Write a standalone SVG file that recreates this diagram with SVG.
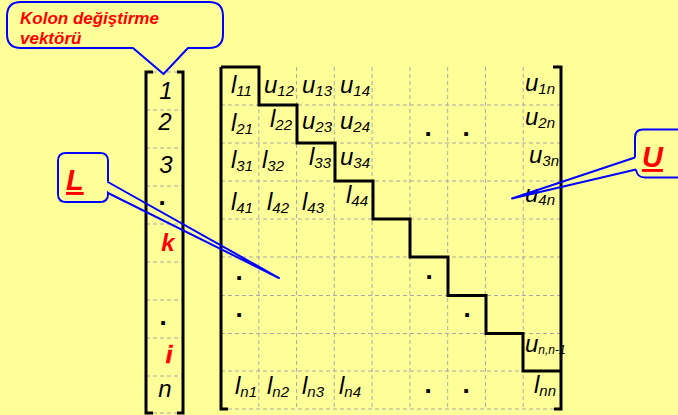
<svg xmlns="http://www.w3.org/2000/svg" width="678" height="415" viewBox="0 0 678 415">
<style>
.bg{fill:#FFFF99}
.grid{stroke:#A8A8A8;stroke-width:1;stroke-dasharray:4 3;fill:none}
.br{stroke:#000;stroke-width:3;fill:none;stroke-linejoin:miter}
.call{stroke:#0000FF;stroke-width:2;fill:#FFFF99;stroke-linejoin:round}
.m{font-family:"Liberation Sans",Arial,sans-serif;font-style:italic;font-size:24px;fill:#000}
.s{font-size:15px}
.v{font-family:"Liberation Sans",Arial,sans-serif;font-style:italic;font-size:24px;fill:#000;text-anchor:middle}
.red{fill:#FF0000;font-weight:bold}
.dot{font-family:"Liberation Sans",Arial,sans-serif;font-weight:bold;font-size:26px;fill:#000;text-anchor:middle}
.lab{font-family:"Liberation Sans",Arial,sans-serif;font-style:italic;font-weight:bold;fill:#FF0000}
</style>
<rect class="bg" x="0" y="0" width="678" height="415"/>

<g id="vector">
  <path class="grid" d="M146,72H183M146,110H183M146,148H183M146,186H183M146,224H183M146,262H183M146,300H183M146,338H183M146,376H183M146,413H183"/>
  <path class="br" d="M153,72H146V413H153M177,72H183V413H177"/>
  <text class="v" x="166" y="99">1</text>
  <text class="v" x="165" y="130">2</text>
  <text class="v" x="166" y="173">3</text>
  <text class="dot" x="162" y="205">.</text>
  <text class="v red" x="168" y="251" font-size="27">k</text>
  <text class="v red" x="169" y="363" font-size="30" stroke="#FF0000" stroke-width="0.6">i</text>
  <text class="dot" x="163" y="325">.</text>
  <text class="v" x="165" y="397">n</text>
</g>

<g id="matrix">
  <path class="grid" d="M221,105H561M221,143H561M221,181H561M221,219H561M221,257H561M221,295.5H561M221,333.5H561M221,371H561M221,409H561
  M258.8,67V409M296.6,67V409M334.3,67V409M372.1,67V409M409.9,67V409M447.7,67V409M485.4,67V409M523.2,67V409"/>
  <text class="m" x="231" y="93">l<tspan class="s" dy="3">11</tspan></text>
  <text class="m" x="264" y="93">u<tspan class="s" dy="3">12</tspan></text>
  <text class="m" x="302" y="93">u<tspan class="s" dy="3">13</tspan></text>
  <text class="m" x="340" y="93">u<tspan class="s" dy="3">14</tspan></text>
  <text class="m" x="231" y="131">l<tspan class="s" dy="3">21</tspan></text>
  <text class="m" x="270" y="127">l<tspan class="s" dy="3">22</tspan></text>
  <text class="m" x="302" y="129">u<tspan class="s" dy="3">23</tspan></text>
  <text class="m" x="340" y="129">u<tspan class="s" dy="3">24</tspan></text>
  <text class="m" x="231" y="168">l<tspan class="s" dy="3">31</tspan></text>
  <text class="m" x="262" y="168">l<tspan class="s" dy="3">32</tspan></text>
  <text class="m" x="309" y="165">l<tspan class="s" dy="3">33</tspan></text>
  <text class="m" x="340" y="165">u<tspan class="s" dy="3">34</tspan></text>
  <text class="m" x="231" y="210">l<tspan class="s" dy="3">41</tspan></text>
  <text class="m" x="267" y="210">l<tspan class="s" dy="3">42</tspan></text>
  <text class="m" x="302" y="210">l<tspan class="s" dy="3">43</tspan></text>
  <text class="m" x="346" y="203">l<tspan class="s" dy="3">44</tspan></text>
  <text class="m" x="525" y="91">u<tspan class="s" dy="3">1n</tspan></text>
  <text class="m" x="525" y="125">u<tspan class="s" dy="3">2n</tspan></text>
  <text class="m" x="529" y="163">u<tspan class="s" dy="3">3n</tspan></text>
  <text class="m" x="525" y="202">u<tspan class="s" dy="3">4n</tspan></text>
  <text class="m" x="525" y="352" font-size="18">u<tspan font-size="12" dy="2">n,n-1</tspan></text>
  <text class="m" x="534" y="393">l<tspan class="s" dy="3">nn</tspan></text>
  <text class="m" x="235" y="394">l<tspan class="s" dy="3">n1</tspan></text>
  <text class="m" x="267" y="394">l<tspan class="s" dy="3">n2</tspan></text>
  <text class="m" x="302" y="394">l<tspan class="s" dy="3">n3</tspan></text>
  <text class="m" x="339" y="394">l<tspan class="s" dy="3">n4</tspan></text>
  <text class="dot" x="428" y="136">.</text>
  <text class="dot" x="466" y="136">.</text>
  <text class="dot" x="239" y="280">.</text>
  <text class="dot" x="429" y="279">.</text>
  <text class="dot" x="239" y="317">.</text>
  <text class="dot" x="467" y="317">.</text>
  <text class="dot" x="428" y="393">.</text>
  <text class="dot" x="466" y="393">.</text>
  <path class="br" d="M221,67H259V105H297V143H335V181H373V219H410V257H448V295.5H486V333.5H523V371H561"/>
  <path class="br" d="M221,67V409H228M553,67H561V409H554"/>
</g>

<g id="connectors">
  <path class="call" d="M21,2H209Q223,2 223,16V34Q223,48 209,48H188L163.5,74L133,48H21Q7,48 7,34V16Q7,2 21,2Z"/>
  <path class="call" style="fill:none" d="M107,181.5L279,278L108,193"/>
  <path class="call" style="fill:none" d="M635,157.5L512,198.5L636,169.5"/>
</g>

<g id="callout-kolon">
  <text class="lab" font-size="17" x="20" y="24">Kolon değiştirme</text>
  <text class="lab" font-size="17" x="20" y="44">vektörü</text>
</g>

<g id="callout-L">
  <path class="call" d="M66,153H100Q108,153 108,161V181.5M108,193V194Q108,202 100,202H66Q58,202 58,194V161Q58,153 66,153Z"/>
  <rect class="bg" x="59" y="154" width="48" height="47" rx="7"/>
  <text class="lab" font-size="29" x="66" y="190" text-decoration="underline">L</text>
</g>

<g id="callout-U">
  <path class="call" d="M690,129.5H643Q635,129.5 635,137.5V157.5M636,169.5Q637,177.5 645,177.5H690"/>
  <text class="lab" font-size="29" x="642" y="167" text-decoration="underline">U</text>
</g>
</svg>
